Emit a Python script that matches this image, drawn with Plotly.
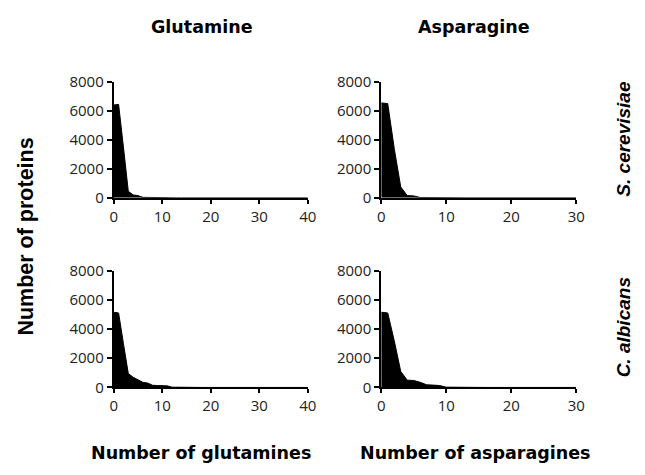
import plotly.graph_objects as go

# Counts of proteins by number of residues
gln_x = list(range(0, 41))
asn_x = list(range(0, 31))

gln_scer = [6400, 6450, 3500, 450, 200, 150, 30, 20, 10, 10,
            5, 5, 5, 0, 0, 0, 0, 0, 0, 0,
            0, 0, 0, 0, 0, 0, 0, 0, 0, 0,
            0, 0, 0, 0, 0, 0, 0, 0, 0, 0, 0]
asn_scer = [6550, 6500, 3400, 750, 150, 130, 20, 10, 5, 5,
            0, 0, 0, 0, 0, 0, 0, 0, 0, 0,
            0, 0, 0, 0, 0, 0, 0, 0, 0, 0, 0]
gln_calb = [5150, 5100, 3000, 950, 700, 500, 350, 300, 150, 130,
            120, 110, 20, 10, 5, 5, 0, 0, 0, 0,
            0, 0, 0, 0, 0, 0, 0, 0, 0, 0,
            0, 0, 0, 0, 0, 0, 0, 0, 0, 0, 0]
asn_calb = [5150, 5100, 3200, 1100, 500, 480, 350, 180, 160, 130,
            20, 10, 5, 0, 0, 0, 0, 0, 0, 0,
            0, 0, 0, 0, 0, 0, 0, 0, 0, 0, 0]

col_titles = ["Glutamine", "Asparagine"]
row_titles = ["S. cerevisiae", "C. albicans"]
x_titles = ["Number of glutamines", "Number of asparagines"]
y_title = "Number of proteins"
y_ticks = [0, 2000, 4000, 6000, 8000]
gln_ticks = [0, 10, 20, 30, 40]
asn_ticks = [0, 10, 20, 30]

W, H = 645, 475
xdom = [[112 / W, 310 / W], [385 / W, 584 / W]]
ydom = [[1 - 195 / H, 1 - 74 / H], [1 - 393 / H, 1 - 271 / H]]

panels = [
    (gln_x, gln_scer, 0, 0, gln_ticks, 40),
    (asn_x, asn_scer, 0, 1, asn_ticks, 30),
    (gln_x, gln_calb, 1, 0, gln_ticks, 40),
    (asn_x, asn_calb, 1, 1, asn_ticks, 30),
]

fig = go.Figure()
tick_font = dict(family="Open Sans, Liberation Sans, sans-serif", size=15, color="#222")
layout = {}
for i, (xs, ys, r, c, xt, xmax) in enumerate(panels):
    n = i + 1
    xa = "x" if n == 1 else f"x{n}"
    ya = "y" if n == 1 else f"y{n}"
    fig.add_trace(go.Scatter(
        x=xs, y=ys, mode="lines", fill="tozeroy",
        line=dict(color="black", width=1), fillcolor="black",
        xaxis=xa, yaxis=ya, showlegend=False, hoverinfo="x+y"))
    xkey = "xaxis" if n == 1 else f"xaxis{n}"
    ykey = "yaxis" if n == 1 else f"yaxis{n}"
    layout[xkey] = dict(domain=xdom[c], anchor=ya, range=[0, xmax],
                        tickvals=xt, ticks="outside", ticklen=4, tickwidth=2,
                        tickcolor="black", showline=True, linecolor="black",
                        linewidth=2, showgrid=False, zeroline=False,
                        tickfont=tick_font, fixedrange=True)
    layout[ykey] = dict(domain=ydom[r], anchor=xa, range=[0, 8000],
                        tickvals=y_ticks, ticks="outside", ticklen=5, tickwidth=2,
                        tickcolor="black", showline=True, linecolor="black",
                        linewidth=2, showgrid=False, zeroline=False,
                        tickfont=tick_font, fixedrange=True)

fig.update_layout(**layout)

title_font = dict(family="DejaVu Sans, sans-serif", size=17.5, color="black")
row_font = dict(family="Liberation Sans, Arial, sans-serif", size=19, color="black")
ylab_font = dict(family="Liberation Sans, Arial, sans-serif", size=21.5, color="black")


def A(text, px, py, font, angle=0):
    return dict(text=text, x=px / W, y=1 - py / H, xref="paper", yref="paper",
                showarrow=False, font=font, textangle=angle,
                xanchor="center", yanchor="middle")


ann = [
    A(f"<b>{col_titles[0]}</b>", 202, 17, title_font),
    A(f"<b>{col_titles[1]}</b>", 480, 17, title_font),
    A(f"<b><i>{row_titles[0]}</i></b>", 632, 133, row_font, -90),
    A(f"<b><i>{row_titles[1]}</i></b>", 632, 330, row_font, -90),
    A(f"<b>{y_title}</b>", 23, 236, ylab_font, -90),
    A(f"<b>{x_titles[0]}</b>", 201, 461, title_font),
    A(f"<b>{x_titles[1]}</b>", 481, 461, title_font),
]

fig.update_layout(annotations=ann, width=W, height=H,
                  margin=dict(l=0, r=0, t=0, b=0),
                  paper_bgcolor="white", plot_bgcolor="white")

fig.write_html("out.html", config={"displayModeBar": False},
               post_script="document.body.style.margin='0px';")
